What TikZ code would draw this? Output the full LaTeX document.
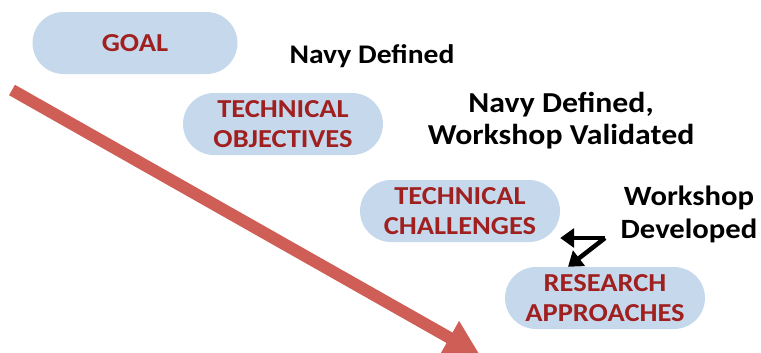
\documentclass[tikz,border=0pt]{standalone}
\usepackage{fontspec}
\setmainfont{Carlito}[FakeStretch=1.1]
\usetikzlibrary{arrows.meta}
\definecolor{pillblue}{RGB}{198,217,236}
\definecolor{pillred}{RGB}{160,32,32}
\definecolor{arrowred}{RGB}{206,94,86}

\begin{document}
\begin{tikzpicture}[x=1bp,y=-1bp,
  pill/.style={fill=pillblue, rounded corners=31bp, minimum width=200bp, minimum height=62bp,
    inner sep=0pt, align=center, text=pillred, font=\fontsize{26}{30}\selectfont\bfseries},
  note/.style={inner sep=0pt, align=center, font=\fontsize{27}{32}\selectfont\bfseries},
  forkarrow/.style={line width=4.5bp, -{Triangle[length=14bp,width=19bp]}}]
%\draw[help lines,step=50] (0,0) grid (761,352);
\useasboundingbox (0,0) rectangle (761,352);
\clip (0,0) rectangle (761,352);

% big arrow down the levels
\coordinate (start) at (12,90);
\coordinate (end) at (480,355);
\draw [arrowred, line width=12bp, -{Triangle[length=35bp,width=36bp]}] (start) -- (end);

% levels
\node [pill, minimum width=205bp] (goal) at (135,43) {GOAL};
\node [pill] (obj) at (283,124) {TECHNICAL\\OBJECTIVES};
\node [pill] (chal) at (460,211) {TECHNICAL\\CHALLENGES};
\node [pill] (res) at (605,298) {RESEARCH\\APPROACHES};

% who defines them
\node [note, anchor=base] (navy) at (372,63) {Navy Defined};
\node [note, font=\fontsize{29}{32}\selectfont\bfseries] (valid) at (561,121) {Navy Defined,\\Workshop Validated};
\node [note, font=\fontsize{28}{33}\selectfont\bfseries] (dev) at (689,214) {Workshop\\Developed};

\coordinate (fork) at (605,238);
\draw [forkarrow] (fork) -- (fork -| chal.east);
\draw [forkarrow] (fork) -- ([xshift=-37bp]res.north);
\end{tikzpicture}
\end{document}
